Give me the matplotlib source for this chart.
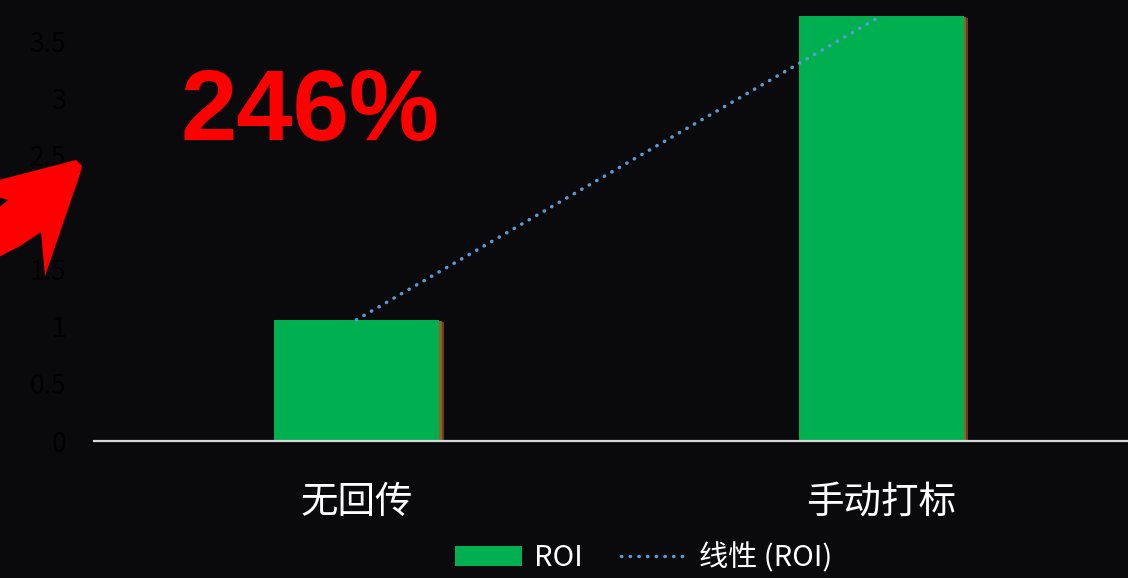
import numpy as np
import matplotlib
matplotlib.use("Agg")
import matplotlib.pyplot as plt
from matplotlib.patches import Polygon, Patch
from matplotlib.lines import Line2D
import matplotlib.patheffects as pe

plt.rcParams['font.family'] = ['Noto Sans CJK SC', 'DejaVu Sans']

# data
categories = ["无回传", "手动打标"]
roi = [1.06, 3.72]
y_ticks = [0, 0.5, 1, 1.5, 2, 2.5, 3, 3.5]
headline = "246%"

W, H = 1128, 578
fig = plt.figure(figsize=(W / 100, H / 100), dpi=100)
fig.patch.set_facecolor("#0a0a0c")

# axes: x from 94px to 1143px, y zero at 441px, top at image top
ax = fig.add_axes([94 / W, 1 - 441 / H, 1049.5 / W, 441 / H])
ax.set_facecolor("none")

x = np.arange(len(categories))
bars = ax.bar(x, roi, width=0.314, color="#00B050", zorder=2)
for b in bars:
    b.set_path_effects([pe.SimplePatchShadow(offset=(3.5, -1.5), shadow_rgbFace="#8a5a22", alpha=0.7),
                        pe.SimplePatchShadow(offset=(2, -1), shadow_rgbFace="#a06a2a", alpha=0.8),
                        pe.Normal()])

# linear trendline over the two categories
coef = np.polyfit(x, roi, 1)
ax.plot(x, np.polyval(coef, x), color="#5B9BD5", lw=2.5,
        linestyle=(0, (0.1, 2.4)), dash_capstyle="round", zorder=3)

ax.set_xlim(-0.5, 1.5)
ax.set_ylim(0, 441 / ((441 - 41) / 3.5))
ax.set_yticks(y_ticks)
ax.set_yticklabels([f"{v:g}" for v in y_ticks])
ax.set_xticks(x)
ax.set_xticklabels(categories)
ax.tick_params(axis="y", length=0, pad=20, labelsize=19, labelcolor="#000000")
ax.tick_params(axis="x", length=0, pad=30, labelsize=27, labelcolor="white")
for s in ["top", "right", "left"]:
    ax.spines[s].set_visible(False)
ax.spines["bottom"].set_color("#d9d9d9")
ax.spines["bottom"].set_linewidth(1.6)

# headline text
fig.text(310 / W, 1 - 140 / H, headline, color="#FF0000", fontsize=73,
         fontweight="bold", family="Liberation Sans", ha="center", va="baseline")

# red arrow (decoration, pixel coords)
arrow_px = [(76, 160), (82, 166), (80, 174), (45, 276), (41, 232), (20, 246),
            (-5, 259), (-5, 211), (8, 200), (-5, 196), (-5, 181)]
arrow = Polygon([(px / W, 1 - py / H) for px, py in arrow_px], closed=True,
                transform=fig.transFigure, facecolor="#FF0000", edgecolor="none",
                joinstyle="round")
fig.add_artist(arrow)

handles = [Patch(facecolor="#00B050", edgecolor="none"),
           Line2D([0], [0], color="#5B9BD5", lw=2.5, linestyle=(0, (0.1, 2.4)),
                  dash_capstyle="round")]
leg = fig.legend(handles, ["ROI", "线性 (ROI)"], loc="center",
                 bbox_to_anchor=(644 / W, 1 - 558 / H), ncol=2, frameon=False,
                 fontsize=21, labelcolor="white", handlelength=2.3, handleheight=0.7,
                 handletextpad=0.4, columnspacing=1.3)

fig.savefig("out.png", dpi=100, facecolor=fig.get_facecolor())
